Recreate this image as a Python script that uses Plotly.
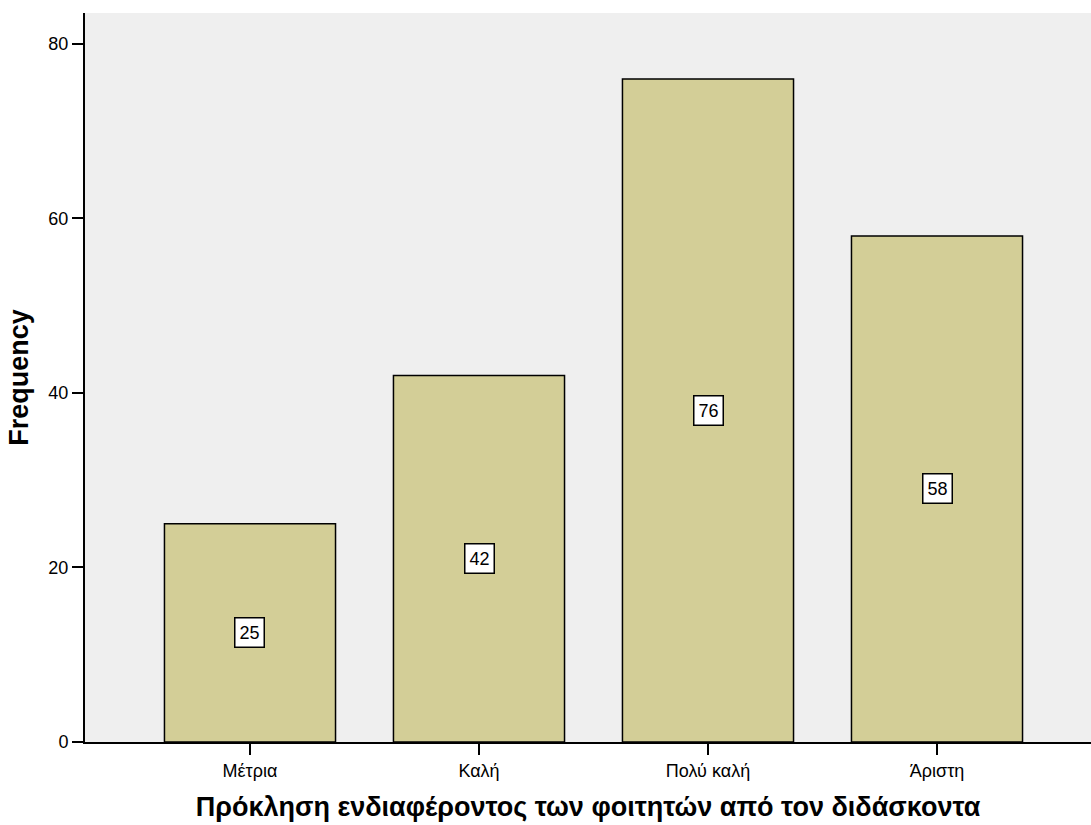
import plotly.graph_objects as go

categories = ["Μέτρια", "Καλή", "Πολύ καλή", "Άριστη"]
frequencies = [25, 42, 76, 58]
y_ticks = [0, 20, 40, 60, 80]

x_pos = list(range(len(categories)))

fig = go.Figure()
fig.add_trace(go.Bar(
    x=x_pos, y=frequencies, width=0.747,
    marker=dict(color="#d3ce97", line=dict(color="black", width=1.5)),
    hoverinfo="skip",
))

for xi, v in zip(x_pos, frequencies):
    fig.add_annotation(
        x=xi, y=v / 2, text=str(v), showarrow=False,
        font=dict(family="Liberation Sans, Arial", size=18, color="black"),
        bgcolor="white", bordercolor="black", borderwidth=1.5, borderpad=4,
    )

fig.update_layout(
    width=1091, height=825,
    margin=dict(l=85, r=0, t=13, b=83),
    paper_bgcolor="white", plot_bgcolor="#efefef",
    showlegend=False,
    font=dict(family="Liberation Sans, Arial", color="black"),
)
fig.update_xaxes(
    range=[-0.7205, 3.6725], tickvals=x_pos, ticktext=categories,
    showgrid=False, zeroline=False, showline=True, linecolor="black", linewidth=2,
    ticks="outside", ticklen=11, tickwidth=2, tickcolor="black",
    tickfont=dict(size=18),
    title=dict(text="<b>Πρόκληση ενδιαφέροντος των φοιτητών από τον διδάσκοντα</b>",
               font=dict(size=27), standoff=18),
)
fig.update_yaxes(
    range=[0, 83.55], tickvals=y_ticks,
    showgrid=False, zeroline=False, showline=True, linecolor="black", linewidth=2,
    ticks="outside", ticklen=11, tickwidth=2, tickcolor="black",
    tickfont=dict(size=18),
    title=dict(text="<b>Frequency</b>", font=dict(size=27), standoff=12),
)

fig.write_html("out.html", config={"displayModeBar": False},
               post_script="document.body.style.margin='0';")
